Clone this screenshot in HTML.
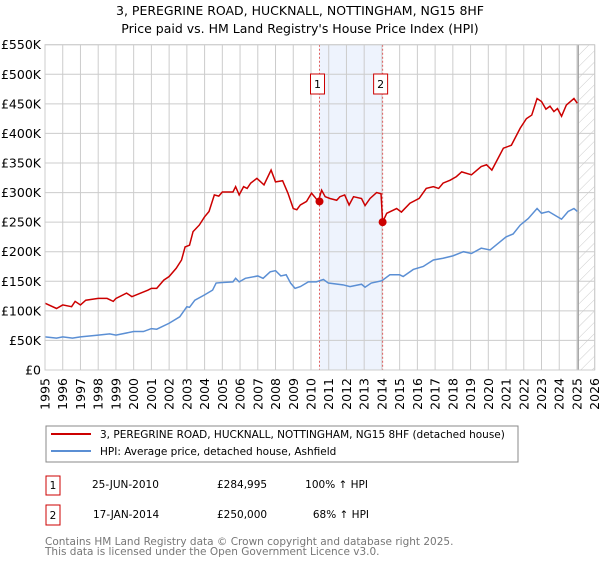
<!DOCTYPE html>
<html><head><meta charset="utf-8">
<style>
body{margin:0;background:#fff;}
svg text{font-family:"DejaVu Sans","Liberation Sans",sans-serif;}
</style></head>
<body>
<svg id="chart" width="600" height="560" xmlns="http://www.w3.org/2000/svg">
<defs>
<pattern id="hatch" patternUnits="userSpaceOnUse" width="8" height="8" patternTransform="rotate(45)">
<line x1="0" y1="0" x2="0" y2="8" stroke="#ccc" stroke-width="1"/>
</pattern>
</defs>
<text x="300" y="15" text-anchor="middle" font-size="12.5" fill="#000">3, PEREGRINE ROAD, HUCKNALL, NOTTINGHAM, NG15 8HF</text>
<text x="300" y="33" text-anchor="middle" font-size="12.5" fill="#000">Price paid vs. HM Land Registry's House Price Index (HPI)</text>
<g id="plot"></g>
<g>
<rect x="46" y="426" width="472" height="36" fill="#fff" stroke="#888" stroke-width="1"/>
<line x1="51" y1="434" x2="91" y2="434" stroke="#cc0000" stroke-width="2"/>
<text x="100" y="438" font-size="10.5">3, PEREGRINE ROAD, HUCKNALL, NOTTINGHAM, NG15 8HF (detached house)</text>
<line x1="51" y1="451" x2="91" y2="451" stroke="#5b8fd4" stroke-width="2"/>
<text x="100" y="455" font-size="10.5">HPI: Average price, detached house, Ashfield</text>
</g>
<g font-size="10.5">
<rect x="46" y="476" width="14" height="19" fill="#fff" stroke="#cc0000"/>
<text x="53" y="489" text-anchor="middle">1</text>
<text x="92" y="488">25-JUN-2010</text>
<text x="217" y="488">£284,995</text>
<text x="368" y="488" text-anchor="end">100% ↑ HPI</text>
<rect x="46" y="505" width="14" height="20" fill="#fff" stroke="#cc0000"/>
<text x="53" y="519" text-anchor="middle">2</text>
<text x="93" y="518">17-JAN-2014</text>
<text x="217" y="518">£250,000</text>
<text x="369" y="518" text-anchor="end">68% ↑ HPI</text>
</g>
<text x="45" y="545" font-size="10.5" fill="#777">Contains HM Land Registry data © Crown copyright and database right 2025.</text>
<text x="45" y="555" font-size="10.5" fill="#777">This data is licensed under the Open Government Licence v3.0.</text>
</svg>
<script>
const yTicks=[0,50,100,150,200,250,300,350,400,450,500,550];
const yTickLabels=["£0","£50K","£100K","£150K","£200K","£250K","£300K","£350K","£400K","£450K","£500K","£550K"];
const xYears=[1995,1996,1997,1998,1999,2000,2001,2002,2003,2004,2005,2006,2007,2008,2009,2010,2011,2012,2013,2014,2015,2016,2017,2018,2019,2020,2021,2022,2023,2024,2025,2026];
const propYears=[1995.0,1995.65,1996.0,1996.5,1996.7,1997.0,1997.3,1998.0,1998.5,1998.85,1999.0,1999.6,1999.9,2000.4,2000.8,2001.0,2001.3,2001.7,2002.0,2002.4,2002.7,2002.9,2003.15,2003.35,2003.7,2004.0,2004.25,2004.55,2004.8,2005.0,2005.6,2005.75,2005.95,2006.2,2006.4,2006.6,2006.95,2007.35,2007.75,2008.0,2008.4,2008.7,2009.0,2009.2,2009.4,2009.75,2010.03,2010.2,2010.41,2010.6,2010.8,2011.07,2011.45,2011.63,2011.9,2012.15,2012.4,2012.85,2013.05,2013.33,2013.7,2013.95,2014.04,2014.27,2014.83,2015.1,2015.58,2016.1,2016.5,2016.9,2017.2,2017.45,2017.85,2018.2,2018.5,2019.05,2019.6,2019.9,2020.2,2020.5,2020.85,2021.3,2021.8,2022.15,2022.45,2022.75,2023.0,2023.25,2023.48,2023.7,2023.9,2024.13,2024.4,2024.83,2025.02];
const propValues=[113,104,110,107,116,110,118,121,121,116,121,130,124,130,135,138,138,152,158,172,186,208,211,234,245,259,268,296,294,301,301,310,296,310,307,316,324,313,338,318,320,299,273,271,279,285,299,293,285,304,293,290,287,293,296,279,293,290,278,290,300,298,250,265,273,267,282,290,307,310,307,316,321,327,335,330,344,347,338,355,375,380,409,425,431,459,454,441,446,437,442,429,448,459,451];
const hpiYears=[1995,1995.65,1996,1996.55,1997,1998,1998.65,1999,2000,2000.55,2001,2001.3,2002,2002.6,2003,2003.15,2003.45,2004,2004.45,2004.65,2005,2005.6,2005.75,2005.95,2006.3,2007,2007.3,2007.7,2008,2008.3,2008.6,2008.85,2009.1,2009.4,2009.85,2010.3,2010.7,2010.98,2011.8,2012.2,2012.85,2013.05,2013.4,2014.0,2014.45,2015.0,2015.2,2015.77,2016.33,2016.9,2017.45,2018.0,2018.6,2019.05,2019.6,2020.1,2020.55,2021.0,2021.4,2021.8,2022.25,2022.75,2023.0,2023.4,2023.85,2024.13,2024.5,2024.83,2025.02];
const hpiValues=[56,54,56,54,56,59,61,59,65,65,70,69,79,90,107,106,118,127,135,147,148,149,155,149,155,159,155,166,168,159,161,147,138,141,149,149,153,147,144,141,145,140,147,151,161,161,158,170,175,186,189,193,200,197,206,203,214,225,230,245,256,273,265,268,260,255,268,273,268];
const saleYears=[2010.48,2014.04];
const saleValues=[284.995,250];
const saleLabels=["1","2"];
const forecastStart=2025.1;

const L=45,R=594.7,T=44.7,B=370;
const xS=y=>L+(y-1995)*(R-L)/31;
const yS=v=>B-v*(B-T)/550;
const NS="http://www.w3.org/2000/svg";
const g=document.getElementById('plot');
function mk(tag,attrs,parent){const e=document.createElementNS(NS,tag);for(const k in attrs)e.setAttribute(k,attrs[k]);(parent||g).appendChild(e);return e;}

const shade=mk('rect',{x:xS(saleYears[0]),y:T,width:xS(saleYears[1])-xS(saleYears[0]),height:B-T,fill:'#eef3fd'});



yTicks.forEach((v,i)=>{
  const ln=mk('line',{x1:L,x2:R,y1:yS(v),y2:yS(v),stroke:'#ccc','stroke-width':1});
  
  
  const t=mk('text',{x:L-4,y:yS(v)+4.5,'text-anchor':'end','font-size':12.5,fill:'#000'});
  t.textContent=yTickLabels[i];
  
  
});
xYears.forEach(yr=>{
  const ln=mk('line',{x1:xS(yr),x2:xS(yr),y1:T,y2:B,stroke:'#ccc','stroke-width':1});
  
  
  const t=mk('text',{x:0,y:0,'text-anchor':'end','font-size':12.5,fill:'#000',transform:`translate(${xS(yr)+4.5},${B+8}) rotate(-90)`});
  t.textContent=yr;
  
  
});

const hatch=mk('rect',{x:xS(forecastStart),y:T,width:R-xS(forecastStart),height:B-T,fill:'url(#hatch)'});


const fl=mk('line',{x1:xS(forecastStart)-0.5,x2:xS(forecastStart)-0.5,y1:T,y2:B,stroke:'#999','stroke-width':1.2});



saleYears.forEach((yr,i)=>{
  const d=mk('line',{x1:xS(yr),x2:xS(yr),y1:T,y2:B,stroke:'#e06060','stroke-width':1,'stroke-dasharray':'2,2'});
  
  
});

const hp=mk('polyline',{points:hpiYears.map((y,i)=>xS(y)+','+yS(hpiValues[i])).join(' '),fill:'none',stroke:'#5b8fd4','stroke-width':1.5});


const pp=mk('polyline',{points:propYears.map((y,i)=>xS(y)+','+yS(propValues[i])).join(' '),fill:'none',stroke:'#cc0000','stroke-width':1.5});



saleYears.forEach((yr,i)=>{
  const c=mk('circle',{cx:xS(yr),cy:yS(saleValues[i]),r:4,fill:'#cc0000'});
  
  
  const b=mk('rect',{x:xS(yr)-9,y:74,width:14,height:20,fill:'#fff',stroke:'#cc0000'});
  
  
  const t=mk('text',{x:xS(yr)-2,y:88,'text-anchor':'middle','font-size':11,fill:'#000'});
  t.textContent=saleLabels[i];
  
  
});
const bx=mk('rect',{x:L,y:T,width:R-L,height:B-T,fill:'none',stroke:'#ccc'});


</script>
</body></html>
